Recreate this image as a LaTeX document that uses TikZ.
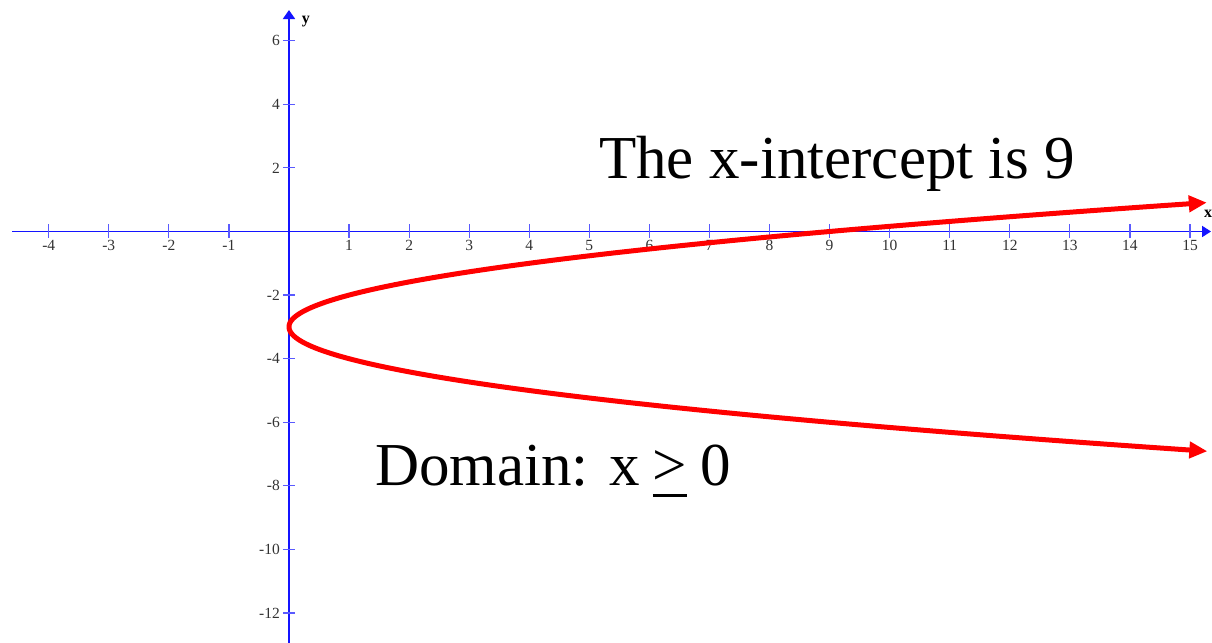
\documentclass[tikz,border=0pt]{standalone}
\usepackage{fontspec}
\setmainfont{Liberation Serif}
\usetikzlibrary{arrows.meta}
\definecolor{axisblue}{RGB}{20,20,255}
\definecolor{ticklab}{RGB}{50,50,50}
\definecolor{curvered}{RGB}{255,0,0}
\tikzset{
  axisline/.style={draw=axisblue, line width=1.8pt},
  tickmark/.style={draw=axisblue!70, line width=1.2pt},
  ticklabel/.style={text=ticklab, inner sep=0pt, font=\fontsize{15.5}{17}\selectfont},
  axislabel/.style={inner sep=0pt, font=\fontsize{16}{18}\selectfont\bfseries},
  bigtext/.style={inner sep=0pt, anchor=base west, font=\fontsize{61}{70}\selectfont},
  curve/.style={draw=curvered, line width=5pt,
    {Triangle[length=18pt,width=16pt]}-{Triangle[length=18pt,width=16pt]}}
}
\begin{document}
\begin{tikzpicture}[x=60.07pt, y=31.8pt]
\useasboundingbox (-4.811,-12.940) rectangle (15.366,7.280);
% axes
\coordinate (xl) at (-4.611,0);
\coordinate (xr) at (15.35,0);
\coordinate (yb) at (0,-12.94);
\coordinate (yt) at (0,6.965);
\draw[axisline, -{Triangle[length=9pt,width=11pt]}] (xl) -- (xr);
\draw[axisline, -{Triangle[length=9pt,width=12pt]}] (yb) -- (yt);
\node[axislabel] (xlab) at (15.30,0.55) {x};
\node[axislabel] (ylab) at (0.28,6.6) {y};
% x ticks
\foreach \i in {-4,-3,-2,-1,1,2,3,4,5,6,7,8,9,10,11,12,13,14,15}{
  \draw[tickmark] (\i,-0.19) -- (\i,0.22);
  \node[ticklabel, anchor=north] (xt\i) at (\i,-0.27) {\i};
}
% y ticks
\foreach \j in {6,4,2,-2,-4,-6,-8,-10,-12}{
  \draw[tickmark] (-0.1,\j) -- (0.1,\j);
  \node[ticklabel, anchor=east] (yt\j) at (-0.15,\j) {\j};
}
% parabola x=(y+3)^2
\draw[curve] plot[domain=-6.91:0.91, samples=240, smooth, variable=\t] ({(\t+3)*(\t+3)},{\t});
% texts
\node[bigtext] (intercept) at (5.161,1.673) {The x-intercept is 9};
\node[bigtext] (domain) at (1.432,-7.972) {Domain: x\hspace{0.22em}\rlap{\rule[-0.2em]{0.564em}{0.05em}}>\hspace{0.22em}0};
\end{tikzpicture}
\end{document}
